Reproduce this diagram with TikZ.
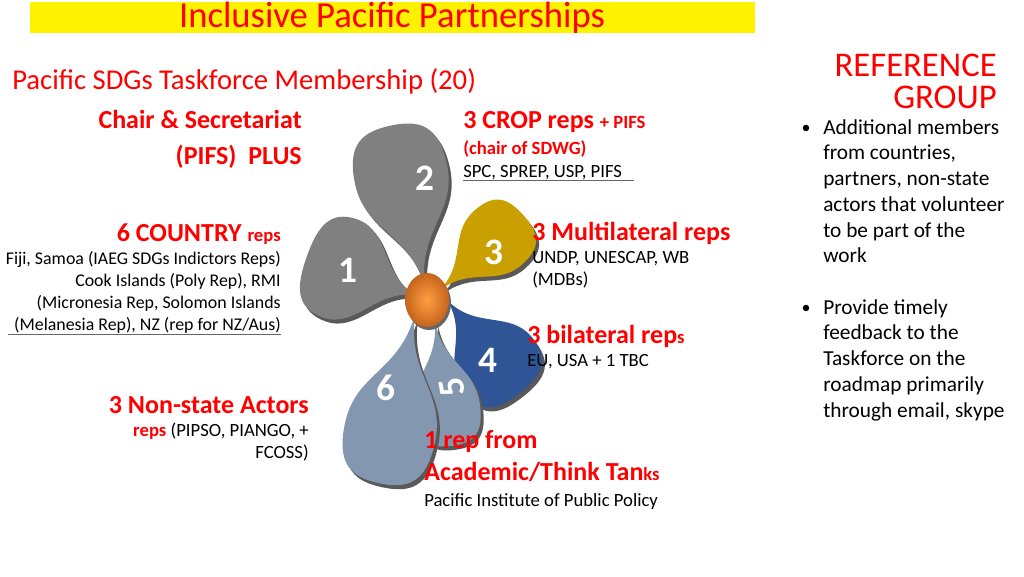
\documentclass[tikz,border=0pt]{standalone}
\usepackage{fontspec}
\setmainfont{Carlito}
\definecolor{tred}{HTML}{FF0000}
\definecolor{pgrey}{HTML}{808080}
\definecolor{pgold}{HTML}{C9A000}
\definecolor{pblue}{HTML}{2F5597}
\definecolor{plblue}{HTML}{8497B0}
\definecolor{porange}{HTML}{C5641C}
\newcommand\petalpath[2]{(0,0) .. controls (0.35*#1,0.1*#2) and (0.4*#1,#2) .. (0.7*#1,#2) .. controls (0.95*#1,#2) and (#1,0.6*#2) .. (#1,0) .. controls (#1,-0.6*#2) and (0.95*#1,-#2) .. (0.7*#1,-#2) .. controls (0.4*#1,-#2) and (0.35*#1,-0.1*#2) .. (0,0)}
\newcommand\petal[6]{%
  \begin{scope}[shift={(#1+3,#2+4)},rotate=-#3]\fill[black!65] \petalpath{#4}{#5};\end{scope}
  \begin{scope}[shift={(#1,#2)},rotate=-#3]\fill[#6] \petalpath{#4}{#5};\end{scope}}
\begin{document}
\begin{tikzpicture}[x=0.75pt,y=-0.75pt,
  txt/.style={text=black,inner sep=0,align=left},
  lab/.style={inner sep=0,font=\fontsize{14}{16.5}\selectfont},
  num/.style={text=white,font=\bfseries\fontsize{28}{28}\selectfont}]
\def\RB{\bfseries\fontsize{19.5}{23}\selectfont}
\def\RS{\fontsize{14}{16}\selectfont}
\def\SM{\fontsize{14}{16.5}\selectfont}
\def\SC{\fontsize{13.4}{16.5}\selectfont}
\useasboundingbox (0,0) rectangle (1024,576);
\fill[yellow] (30,2) rectangle (755,33);
\node[text=tred,font=\fontsize{27.5}{30}\selectfont] (title) at (392,18) {Inclusive Pacific Partnerships};
\node[text=tred,font=\fontsize{21.5}{24}\selectfont,anchor=west,inner sep=0] (hdr) at (12,81) {Pacific SDGs Taskforce Membership (20)};
\node[text=tred,font=\fontsize{26}{24}\selectfont,align=right,anchor=north east,inner sep=0] (ref) at (997,54) {REFERENCE\\GROUP};
\node[txt,anchor=north west,font=\fontsize{16}{19.3}\selectfont] (b1) at (823,119) {Additional members\\from countries,\\partners, non-state\\actors that volunteer\\to be part of the\\work};
\node[txt,anchor=north west,font=\fontsize{16}{19.3}\selectfont] (b2) at (823,299) {Provide timely\\feedback to the\\Taskforce on the\\roadmap primarily\\through email, skype};
\node[font=\fontsize{13.5}{14}\selectfont] (d1) at (806,129) {•};
\node[font=\fontsize{13.5}{14}\selectfont] (d2) at (806,309) {•};
% petals
\petal{418}{296}{199.5}{118}{52}{pgrey}
\petal{425}{287}{258}{165}{47}{pgrey}
\petal{440}{290}{-42}{112}{36}{pgold}
\petal{447}{300}{52}{118}{44}{pblue}
\petal{435}{322}{82}{125}{33}{plblue}
\petal{415}{315}{102}{172}{46}{plblue}
\fill[black!60] (429,303) ellipse (22 and 27);
\shade[inner color=orange!75!white,outer color=porange] (427,300) ellipse (22 and 27);
\node[num] (n1) at (348,270) {1};
\node[num] (n2) at (425,178) {2};
\node[num] (n3) at (494,252) {3};
\node[num] (n4) at (488,360) {4};
\node[num,rotate=100] (n5) at (452,387) {5};
\node[num] (n6) at (386,388) {6};
% labels
\node[text=tred,inner sep=0,font=\RB,anchor=north east,align=right] (chair) at (302,110) {Chair \& Secretariat\\[4pt](PIFS)\ \ PLUS};
\node[lab,anchor=north west,align=left] (crop) at (463,111) {\textcolor{tred}{\RB 3 CROP reps \RS+ PIFS}\\[3pt]\textcolor{tred}{\bfseries\RS (chair of SDWG)}\\[1pt]\SM SPC, SPREP, USP, PIFS};
\draw[black!60] (463,180) -- (634,180);
\node[lab,font=\SC,anchor=north east,align=right] (country) at (281,223) {\textcolor{tred}{\RB 6 COUNTRY \RS reps}\\[1pt]\SC Fiji, Samoa (IAEG SDGs Indictors Reps)\\\SC Cook Islands (Poly Rep), RMI\\\SC (Micronesia Rep, Solomon Islands\\\SC (Melanesia Rep), NZ (rep for NZ/Aus)};
\draw[black!60] (8,334) -- (281,334);
\node[lab,anchor=north west,align=left] (multi) at (532,222) {\textcolor{tred}{\RB 3 Multilateral reps}\\[1pt]\SM UNDP, UNESCAP, WB\\\SM (MDBs)};
\node[lab,anchor=north west,align=left] (bilat) at (527,325) {\textcolor{tred}{\RB 3 bilateral rep\RS s}\\[1pt]\SM EU, USA + 1 TBC};
\node[lab,anchor=north east,align=right] (nsa) at (309,396) {\textcolor{tred}{\RB 3 Non-state Actors}\\[1pt]\SM\textcolor{tred}{\bfseries reps} (PIPSO, PIANGO, +\\\SM FCOSS)};
\node[lab,anchor=north west,align=left] (acad) at (424,430) {\textcolor{tred}{\RB 1 rep from}\\[6pt]\textcolor{tred}{\RB Academic/Think Tan\RS ks}\\[3pt]\SM Pacific Institute of Public Policy};
\end{tikzpicture}
\end{document}
